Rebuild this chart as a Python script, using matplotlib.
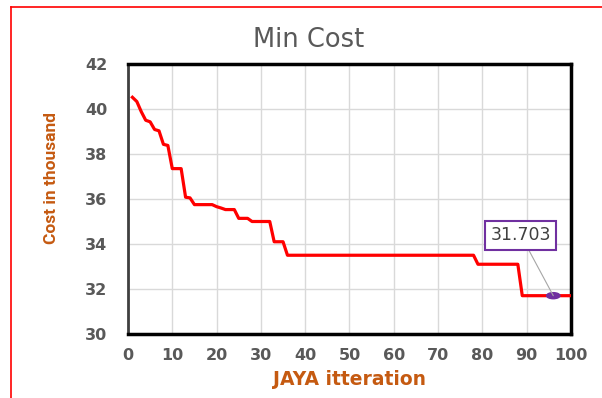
import matplotlib.pyplot as plt
from matplotlib.lines import Line2D
from matplotlib.patches import Ellipse

# best cost found per JAYA iteration (points where the curve changes)
iterations = [1, 2, 3, 4, 5, 6, 7, 8, 9, 10, 12, 13, 14, 15, 19, 20, 21, 22, 24,
              25, 27, 28, 32, 33, 35, 36, 78, 79, 88, 89, 100]
cost = [40.52, 40.33, 39.88, 39.50, 39.43, 39.09, 39.03, 38.43, 38.38, 37.35, 37.35,
        36.08, 36.05, 35.75, 35.75, 35.66, 35.60, 35.53, 35.53, 35.14, 35.14, 35.00,
        35.00, 34.10, 34.10, 33.50, 33.50, 33.10, 33.10, 31.703, 31.703]
best_iter = 96
best_cost = 31.703

x_ticks = list(range(0, 101, 10))
y_ticks = list(range(30, 43, 2))

fig = plt.figure(figsize=(6.02, 3.98), dpi=100)
ax = fig.add_axes([0.2126, 0.1608, 0.7359, 0.6784])

ax.plot(iterations, cost, color='#FF0000', lw=2.3, zorder=3)

# highlighted minimum with its data label
ax.add_patch(Ellipse((best_iter, best_cost), 3.0, 0.27, color='#7030A0', zorder=4))
ax.annotate(f'{best_cost:.3f}', xy=(best_iter, best_cost), xytext=(88.7, 34.38),
            ha='center', va='center', fontsize=12.5, color='#404040',
            family='DejaVu Sans',
            bbox=dict(boxstyle='square,pad=0.3', fc='white', ec='#7030A0', lw=1.5),
            arrowprops=dict(arrowstyle='-', color='#A6A6A6', lw=0.8,
                            shrinkA=0, shrinkB=0),
            zorder=5)

ax.set_xlim(0, 100)
ax.set_ylim(30, 42)
ax.set_xticks(x_ticks)
ax.set_yticks(y_ticks)
ax.grid(True, color='#D9D9D9', lw=1)
ax.set_axisbelow(True)
ax.tick_params(length=0, labelsize=11.5, labelcolor='#595959')
ax.tick_params(axis='y', pad=15)
ax.tick_params(axis='x', pad=10)
for lab in ax.get_xticklabels() + ax.get_yticklabels():
    lab.set_fontweight('bold')

for side in ['top', 'right', 'bottom']:
    ax.spines[side].set_linewidth(2.5)
    ax.spines[side].set_color('black')
ax.spines['left'].set_linewidth(2)
ax.spines['left'].set_color('#404040')

ax.set_xlabel('JAYA itteration', fontsize=13.5, fontweight='bold', color='#C55A11',
              labelpad=5)
ax.set_ylabel('Cost in thousand', fontsize=12.5, fontweight='bold', color='#C55A11',
              family='Roboto')
ax.yaxis.set_label_coords(-0.155, 0.578)
fig.text(0.513, 0.9, 'Min Cost', ha='center', va='center', fontsize=18.5,
         color='#595959', family='DejaVu Sans')

# red frame on the left and top edges
fig.add_artist(Line2D([11 / 602, 11 / 602], [0, 1 - 7 / 398], color='#FF0000', lw=1.2))
fig.add_artist(Line2D([11 / 602, 1], [1 - 7 / 398, 1 - 7 / 398], color='#FF0000', lw=1.2))

fig.savefig('out.png', dpi=100)
